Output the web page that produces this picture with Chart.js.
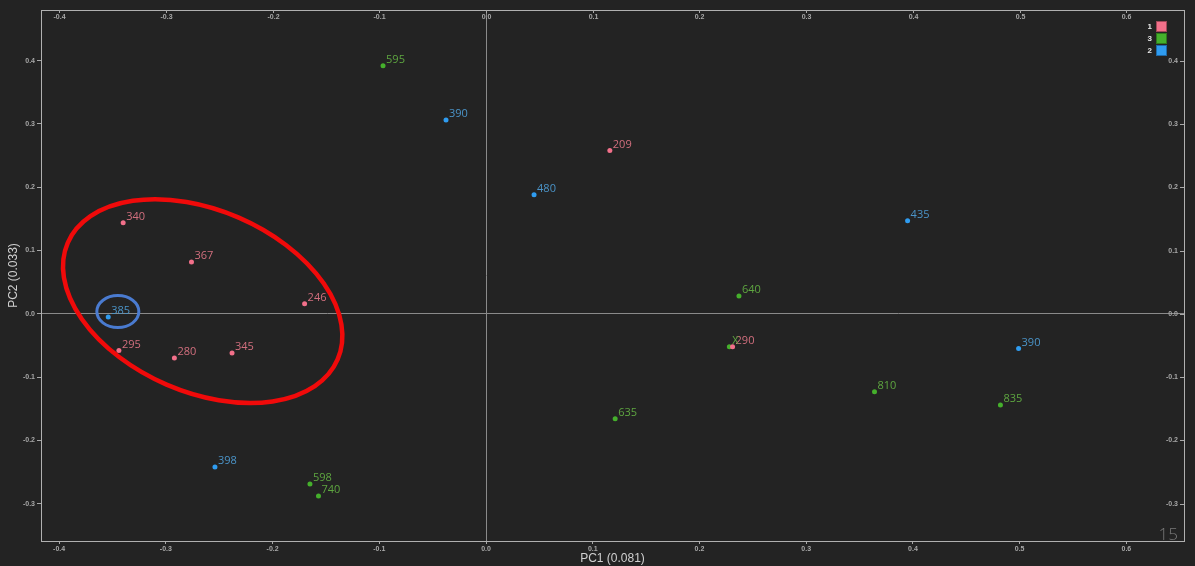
<!DOCTYPE html>
<html>
<head>
<meta charset="utf-8">
<script src="https://cdn.jsdelivr.net/npm/chart.js@4/dist/chart.umd.min.js"></script>
<style>
  html, body { margin: 0; padding: 0; background: #232323; }
  canvas { display: block; }
</style>
</head>
<body>
<canvas id="pca" width="1195" height="566"></canvas>
<script>
// grupo 1 (rosa)
const grupo1Labels = ['209', '340', '367', '246', '295', '280', '345', '290'];
const grupo1X = [0.116, -0.340, -0.276, -0.170, -0.344, -0.292, -0.238, 0.231];
const grupo1Y = [0.258, 0.144, 0.082, 0.016, -0.058, -0.070, -0.062, -0.052];

// grupo 3 (verde)
const grupo3Labels = ['595', '640', 'X', '635', '810', '835', '598', '740'];
const grupo3X = [-0.0965, 0.237, 0.228, 0.121, 0.364, 0.482, -0.165, -0.157];
const grupo3Y = [0.392, 0.028, -0.052, -0.166, -0.123, -0.144, -0.269, -0.288];

// grupo 2 (azul)
const grupo2Labels = ['390', '480', '435', '390', '385', '398'];
const grupo2X = [-0.0375, 0.045, 0.395, 0.499, -0.354, -0.254];
const grupo2Y = [0.306, 0.188, 0.147, -0.055, -0.005, -0.242];

const ticksX = [-0.4, -0.3, -0.2, -0.1, 0, 0.1, 0.2, 0.3, 0.4, 0.5, 0.6];
const ticksY = [-0.3, -0.2, -0.1, 0, 0.1, 0.2, 0.3, 0.4];

const limitesX = [-0.417, 0.654];
const limitesY = [-0.359, 0.480];

function pontos(xs, ys) {
    return xs.map((x, i) => ({ x: x, y: ys[i] }));
}

const corTick = '#a8a8a8';
const fonteTick = { size: 7, weight: 'bold', family: 'Arial, "Liberation Sans", sans-serif' };

// rótulos ao lado de cada ponto
const rotulosPontos = {
    id: 'rotulosPontos',
    afterDatasetsDraw(chart) {
        const ctx = chart.ctx;
        ctx.save();
        ctx.font = '11px "Open Sans", sans-serif';
        ctx.textBaseline = 'middle';
        ctx.textAlign = 'left';
        chart.data.datasets.forEach((ds, i) => {
            const meta = chart.getDatasetMeta(i);
            ctx.fillStyle = ds.corRotulo;
            meta.data.forEach((pt, j) => {
                ctx.fillText(ds.rotulos[j], pt.x + 3, pt.y - 6);
            });
        });
        ctx.restore();
    }
};

// eixos de cima e da direita, legenda, marcações
const extras = {
    id: 'extras',
    afterDraw(chart) {
        const ctx = chart.ctx;
        const area = chart.chartArea;
        const sx = chart.scales.x;
        const sy = chart.scales.y;
        ctx.save();

        // rótulos do eixo superior (para dentro)
        ctx.font = 'bold 7px Arial, "Liberation Sans", sans-serif';
        ctx.fillStyle = corTick;
        ctx.strokeStyle = corTick;
        ctx.lineWidth = 1;
        ctx.textAlign = 'center';
        ctx.textBaseline = 'middle';
        ticksX.forEach(v => {
            const px = Math.round(sx.getPixelForValue(v)) + 0.5;
            ctx.beginPath();
            ctx.moveTo(px, area.top);
            ctx.lineTo(px, area.top + 3);
            ctx.stroke();
            ctx.fillText(v.toFixed(1), px, area.top + 7);
        });
        // rótulos do eixo direito (para dentro)
        ctx.textAlign = 'right';
        ticksY.forEach(v => {
            const py = Math.round(sy.getPixelForValue(v)) + 0.5;
            ctx.beginPath();
            ctx.moveTo(area.right - 4, py);
            ctx.lineTo(area.right, py);
            ctx.stroke();
            ctx.fillText(v.toFixed(1), area.right - 6, py);
        });

        // legenda
        ctx.textAlign = 'right';
        ctx.font = 'bold 8px Arial, "Liberation Sans", sans-serif';
        chart.data.datasets.forEach((ds, i) => {
            const y = 21 + i * 12;
            ctx.fillStyle = ds.backgroundColor;
            ctx.fillRect(1156, y, 11, 11);
            ctx.strokeStyle = ds.corBorda;
            ctx.strokeRect(1156.5, y + 0.5, 10, 10);
            ctx.fillStyle = '#e8e8e8';
            ctx.fillText(ds.label, 1152, y + 6);
        });

        // elipse vermelha
        ctx.beginPath();
        ctx.ellipse(sx.getPixelForValue(-0.2655), sy.getPixelForValue(0.020), 147, 91, 0.408, 0, Math.PI * 2);
        ctx.strokeStyle = '#f00a0a';
        ctx.lineWidth = 4.5;
        ctx.stroke();

        // círculo azul
        ctx.beginPath();
        ctx.ellipse(sx.getPixelForValue(-0.345), sy.getPixelForValue(0.0036), 21, 16, 0, 0, Math.PI * 2);
        ctx.strokeStyle = '#4a7bd0';
        ctx.lineWidth = 3;
        ctx.stroke();

        // número da página
        ctx.font = '300 17px "Open Sans", sans-serif';
        ctx.fillStyle = '#7a7a7a';
        ctx.textAlign = 'right';
        ctx.textBaseline = 'alphabetic';
        ctx.fillText('15', 1178, 540);

        ctx.restore();
    }
};

const linhaZero = ctx => (ctx.tick && ctx.tick.value === 0) ? '#8a8a8a' : 'rgba(0,0,0,0)';

new Chart(document.getElementById('pca'), {
    type: 'scatter',
    data: {
        datasets: [
            {
                label: '1',
                data: pontos(grupo1X, grupo1Y),
                rotulos: grupo1Labels,
                backgroundColor: '#f2708a',
                borderColor: '#f2708a',
                corRotulo: '#d26f7e',
                corBorda: '#a04858'
            },
            {
                label: '3',
                data: pontos(grupo3X, grupo3Y),
                rotulos: grupo3Labels,
                backgroundColor: '#45b02c',
                borderColor: '#45b02c',
                corRotulo: '#5ea640',
                corBorda: '#2e7a1c'
            },
            {
                label: '2',
                data: pontos(grupo2X, grupo2Y),
                rotulos: grupo2Labels,
                backgroundColor: '#2f9cf0',
                borderColor: '#2f9cf0',
                corRotulo: '#4b94c8',
                corBorda: '#1f6aa8'
            }
        ]
    },
    options: {
        responsive: false,
        animation: false,
        layout: { padding: 0 },
        elements: { point: { radius: 2.5, borderWidth: 0, hoverRadius: 2.5 } },
        plugins: {
            legend: { display: false },
            tooltip: { enabled: false }
        },
        scales: {
            x: {
                type: 'linear',
                position: 'bottom',
                min: limitesX[0],
                max: limitesX[1],
                afterBuildTicks: s => { s.ticks = ticksX.map(v => ({ value: v })); },
                afterFit: s => { s.height = 25; },
                border: { color: '#b0b0b0', width: 1 },
                grid: { color: linhaZero, tickColor: corTick, tickLength: 3 },
                ticks: {
                    color: corTick,
                    font: fonteTick,
                    padding: 1,
                    maxRotation: 0,
                    autoSkip: false,
                    callback: v => Number(v).toFixed(1)
                },
                title: {
                    display: true,
                    text: 'PC1 (0.081)',
                    color: '#d0d0d0',
                    font: { size: 12, family: 'Arial, "Liberation Sans", sans-serif' },
                    padding: 0
                }
            },
            x2: {
                type: 'linear',
                position: 'top',
                min: limitesX[0],
                max: limitesX[1],
                afterFit: s => { s.height = 10; },
                border: { color: '#b0b0b0', width: 1 },
                grid: { display: false },
                ticks: { display: false }
            },
            y: {
                type: 'linear',
                position: 'left',
                min: limitesY[0],
                max: limitesY[1],
                afterBuildTicks: s => { s.ticks = ticksY.map(v => ({ value: v })); },
                afterFit: s => { s.width = 41; },
                border: { color: '#b0b0b0', width: 1 },
                grid: { color: linhaZero, tickColor: corTick, tickLength: 4 },
                ticks: {
                    color: corTick,
                    font: fonteTick,
                    padding: 2,
                    autoSkip: false,
                    callback: v => Number(v).toFixed(1)
                },
                title: {
                    display: true,
                    text: 'PC2 (0.033)',
                    color: '#d0d0d0',
                    font: { size: 12, family: 'Arial, "Liberation Sans", sans-serif' },
                    padding: { top: 6, bottom: 0 }
                }
            },
            y2: {
                type: 'linear',
                position: 'right',
                min: limitesY[0],
                max: limitesY[1],
                afterFit: s => { s.width = 11; },
                border: { color: '#b0b0b0', width: 1 },
                grid: { display: false },
                ticks: { display: false }
            }
        }
    },
    plugins: [rotulosPontos, extras]
});
</script>
</body>
</html>
